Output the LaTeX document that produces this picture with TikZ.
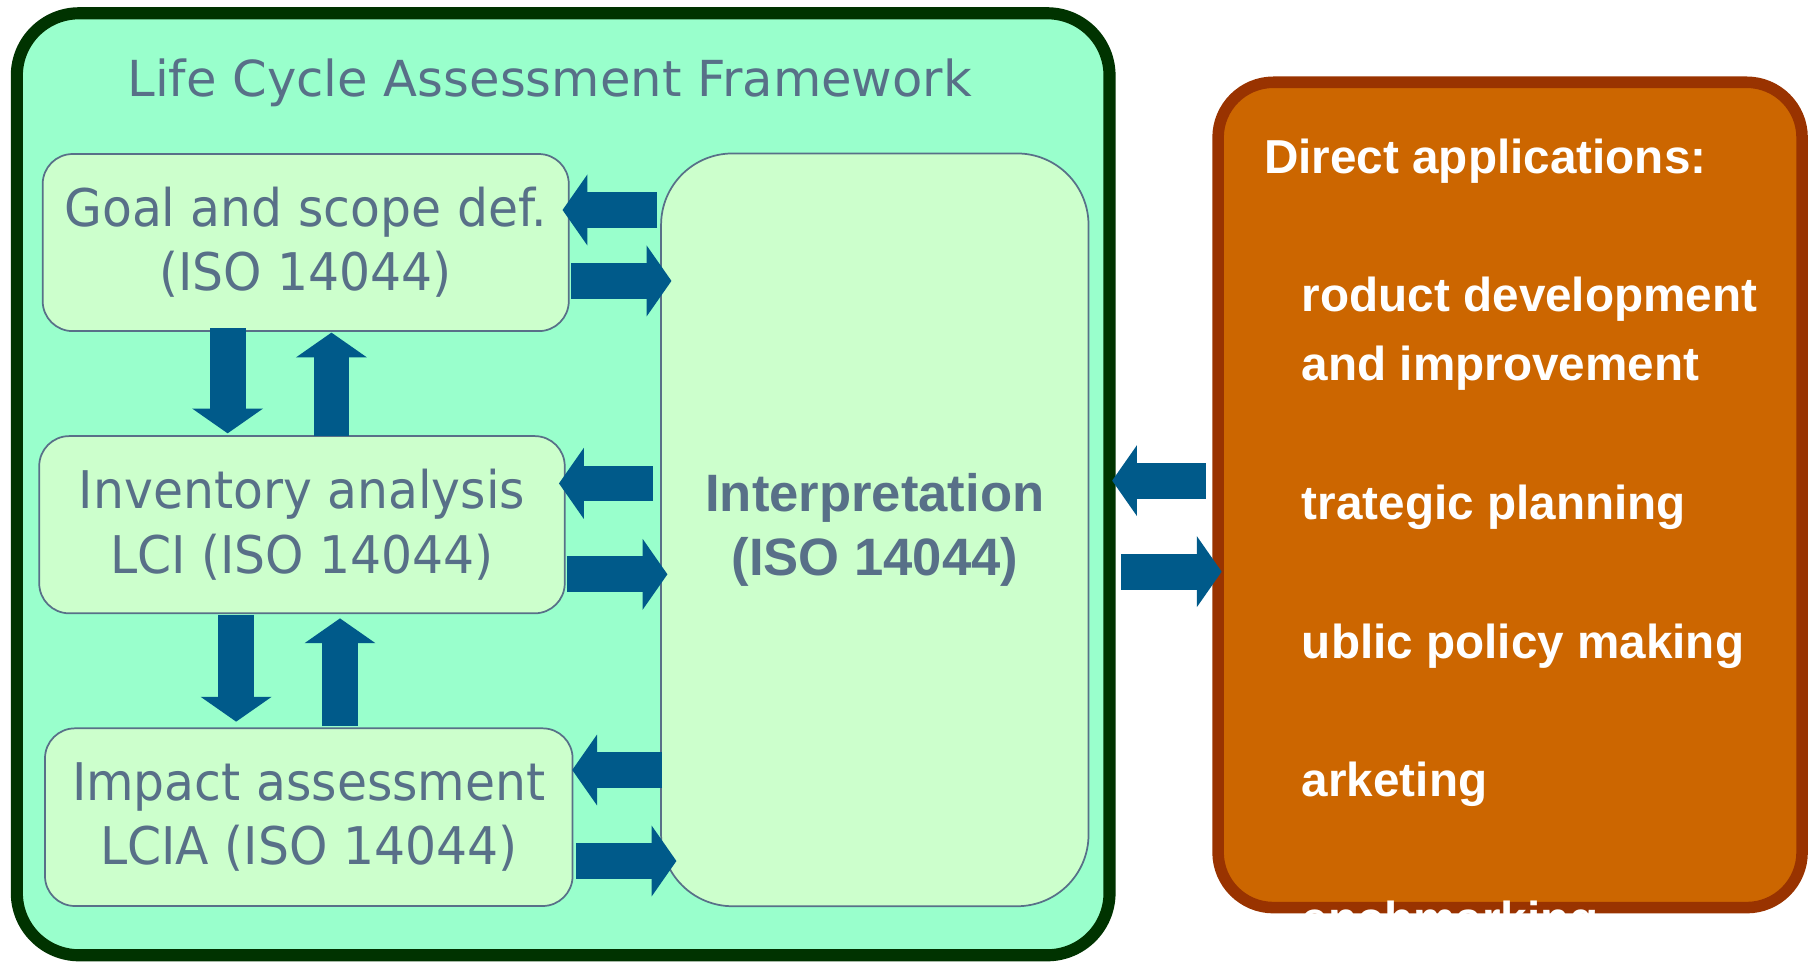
\documentclass[tikz,border=0pt]{standalone}
\usepackage{fontspec}
\setmainfont{DejaVu Sans}
\newfontfamily\stagefont{DejaVu Sans}[FakeStretch=0.94]
\newfontfamily\lsans{Liberation Sans}
\usetikzlibrary{arrows.meta,calc}
\definecolor{framefill}{HTML}{99FFCC}
\definecolor{framedraw}{HTML}{003300}
\definecolor{boxfill}{HTML}{CCFFCC}
\definecolor{slate}{RGB}{88,112,136}
\definecolor{arrowblue}{RGB}{0,90,138}
\definecolor{appsfill}{HTML}{CC6600}
\definecolor{appsdraw}{HTML}{993300}
\begin{document}
\begin{tikzpicture}[x=0.5pt,y=-0.5pt,
  every node/.style={outer sep=0pt, inner sep=0pt},
  frame/.style={draw=framedraw, fill=framefill, line width=5.25pt, rounded corners=27pt},
  titletext/.style={anchor=base, text=slate, font=\fontsize{21.5pt}{26pt}\selectfont},
  stage/.style={draw=slate, fill=boxfill, line width=0.75pt, rounded corners=13pt,
    align=center, text=slate, font=\stagefont\fontsize{22.5pt}{27.75pt}\selectfont},
  interpbox/.style={draw=slate, fill=boxfill, line width=0.75pt, rounded corners=31pt,
    align=center, text=slate, font=\lsans\bfseries\fontsize{22.8pt}{27.75pt}\selectfont},
  appsbox/.style={draw=appsdraw, fill=appsfill, line width=5pt, rounded corners=24pt},
  appstext/.style={anchor=base west, text=white, font=\lsans\bfseries\fontsize{20.65pt}{24pt}\selectfont},
  flow/.style={draw=arrowblue, line width=15.5pt,
    -{Triangle[length=10.75pt,width=30.75pt,line width=0pt]}}
]
\useasboundingbox (0,0) rectangle (1568,834);

% outer framework
\node[frame, minimum width=473.55pt, minimum height=408.25pt] (lca) at (488.15,419.75) {};
\node[titletext] (title) at (476.5,83.8) {Life Cycle Assessment Framework};

% stages
\node[stage, minimum width=228pt, minimum height=76.75pt] (goal) at (265,210.25)
  {Goal and scope def.\\(ISO 14044)};
\node[stage, minimum width=227.75pt, minimum height=76.8pt] (inv) at (261.75,454.8)
  {Inventory analysis\\LCI (ISO 14044)};
\node[stage, minimum width=228.65pt, minimum height=77pt] (imp) at (267.65,708.3)
  {Impact assessment\\LCIA (ISO 14044)};
\node[interpbox, minimum width=185.25pt, minimum height=326.25pt] (interp) at (758.25,459.25)
  {Interpretation\\(ISO 14044)};

% applications
\node[appsbox, minimum width=253.1pt, minimum height=357.7pt] (apps) at (1308.9,429) {};
\begin{scope}
  \clip[rounded corners=26.5pt] ($(apps.south west)+(-2.5pt,-2.5pt)$) rectangle ($(apps.north east)+(2.5pt,2.5pt)$);
  \node[appstext] (a0) at (1095.8,150.2) {Direct applications:};
  \node[appstext] (a1) at (1128.5,270.2) {roduct development};
  \node[appstext] (a2) at (1128.5,330) {and improvement};
  \node[appstext] (a3) at (1128.5,450.3) {trategic planning};
  \node[appstext] (a4) at (1128.5,570.5) {ublic policy making};
  \node[appstext] (a5) at (1128.5,690.5) {arketing};
  \node[appstext] (a6) at (1128.5,810.5) {enchmarking};
\end{scope}

% horizontal arrows between stages and interpretation
\draw[flow] ($(interp.west)+(-3.5,-277.25)$) -- ($(goal.east)+(-5.4,-28.25)$);
\draw[flow] ($(goal.east)+(2.3,33.25)$) -- ($(interp.west)+(9,-215.75)$);
\draw[flow] ($(interp.west)+(-7,-40.25)$) -- ($(inv.east)+(-5,-35.8)$);
\draw[flow] ($(inv.east)+(1.9,43)$) -- ($(interp.west)+(5.5,38.55)$);
\draw[flow] ($(interp.west)+(1,208.15)$) -- ($(imp.east)+(-0.3,-40.9)$);
\draw[flow] ($(imp.east)+(3.1,38)$) -- ($(interp.west)+(13.3,287.05)$);

% vertical arrows between stages
\draw[flow] ($(goal.south)+(-67.7,-2.4)$) -- ($(inv.north)+(-64.45,-2.4)$);
\draw[flow] ($(inv.north)+(25.55,0)$) -- ($(goal.south)+(22.3,1.3)$);
\draw[flow] ($(inv.south)+(-57.05,1.4)$) -- ($(imp.north)+(-62.95,-5.8)$);
\draw[flow] ($(imp.north)+(27.05,-2)$) -- ($(inv.south)+(32.95,4.4)$);

% arrows between framework and applications
\draw[flow] ($(apps.west)+(-10.5,-12.4)$) -- ($(lca.east)+(2.3,-3.15)$);
\draw[flow] ($(lca.east)+(9.9,75.75)$) -- ($(apps.west)+(3.1,66.5)$);
\end{tikzpicture}
\end{document}
